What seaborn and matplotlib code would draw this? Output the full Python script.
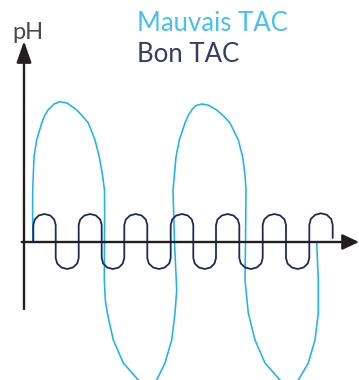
import matplotlib
matplotlib.use("Agg")
import matplotlib.pyplot as plt
import pandas as pd
import seaborn as sns

# pH over time (time units, pH deviation from the set point)
mauvais_t = [0.90, 0.86, 0.87, 1.00, 1.27, 1.77, 2.05, 2.40, 3.00, 3.60, 4.30, 5.27, 5.85, 6.43,
             7.10, 7.53, 7.85, 8.05, 8.06, 8.05, 8.03, 8.13, 8.33, 8.93, 9.93, 11.43, 12.30,
             13.27, 14.10, 14.77, 15.10, 15.27, 15.05, 14.90, 15.20, 15.53, 16.10, 16.40, 16.77,
             17.20, 17.77, 18.40, 19.27, 19.95, 20.60, 21.43, 21.87, 22.10, 22.20, 22.15, 22.10,
             22.43, 23.10, 24.10, 25.60, 26.50, 27.43, 28.43, 29.10, 29.43, 29.43, 29.27]
mauvais_ph = [0.0, 2.7, 5.2, 8.5, 10.2, 11.9, 12.6, 13.2, 13.8, 14.03, 13.9, 13.2, 12.6, 11.9,
              10.2, 8.5, 6.7, 5.2, 2.7, 0.0, -3.8, -5.8, -7.1, -9.8, -12.1, -13.8, -14.3,
              -13.8, -12.1, -9.8, -7.1, -4.8, 0.0, 5.2, 8.5, 10.2, 11.9, 12.6, 13.2,
              13.65, 13.8, 13.7, 13.2, 12.6, 11.9, 10.2, 8.5, 6.7, 5.2, 0.0, -3.8,
              -7.1, -9.8, -12.1, -13.8, -14.3, -13.8, -12.1, -9.8, -7.1, -3.8, 0.0]

bon_t = [0.93, 0.93, 1.08, 1.47, 2.05, 2.63, 3.02, 3.17, 3.17,
         3.17, 3.32, 3.74, 4.32, 4.90, 5.32, 5.47, 5.47,
         5.47, 5.62, 6.04, 6.62, 7.20, 7.62, 7.77, 7.77,
         7.77, 7.92, 8.32, 8.90, 9.48, 9.88, 10.03, 10.03,
         10.03, 10.18, 10.60, 11.18, 11.76, 12.18, 12.33, 12.33,
         12.33, 12.48, 12.92, 13.50, 14.08, 14.52, 14.67, 14.67,
         14.67, 14.82, 15.22, 15.80, 16.38, 16.78, 16.93, 16.93,
         16.93, 17.08, 17.49, 18.07, 18.65, 19.05, 19.20, 19.20,
         19.20, 19.35, 19.79, 20.37, 20.95, 21.38, 21.53, 21.53,
         21.53, 21.68, 22.12, 22.70, 23.28, 23.72, 23.87, 23.87,
         23.87, 24.02, 24.46, 25.04, 25.62, 26.05, 26.20, 26.20,
         26.20, 26.35, 26.79, 27.37, 27.95, 28.38, 28.53, 28.53,
         28.53, 28.68, 29.12, 29.70, 30.28, 30.72, 30.87, 30.87]
bon_ph = [0.0, 1.7, 2.25, 2.65, 2.8, 2.65, 2.25, 1.7, 0.0,
          -1.6, -2.15, -2.55, -2.7, -2.55, -2.15, -1.6, 0.0,
          1.7, 2.25, 2.65, 2.8, 2.65, 2.25, 1.7, 0.0,
          -1.6, -2.15, -2.55, -2.7, -2.55, -2.15, -1.6, 0.0,
          1.7, 2.25, 2.65, 2.8, 2.65, 2.25, 1.7, 0.0,
          -1.6, -2.15, -2.55, -2.7, -2.55, -2.15, -1.6, 0.0,
          1.7, 2.25, 2.65, 2.8, 2.65, 2.25, 1.7, 0.0,
          -1.6, -2.15, -2.55, -2.7, -2.55, -2.15, -1.6, 0.0,
          1.7, 2.25, 2.65, 2.8, 2.65, 2.25, 1.7, 0.0,
          -1.6, -2.15, -2.55, -2.7, -2.55, -2.15, -1.6, 0.0,
          1.7, 2.25, 2.65, 2.8, 2.65, 2.25, 1.7, 0.0,
          -1.6, -2.15, -2.55, -2.7, -2.55, -2.15, -1.6, 0.0,
          1.7, 2.3, 2.72, 2.87, 2.72, 2.3, 1.7, 0.4]

labels = ["Mauvais TAC", "Bon TAC"]
colors = {"Mauvais TAC": "#1cb4ee", "Bon TAC": "#1e2a5c"}
text_colors = {"Mauvais TAC": "#45c2f1", "Bon TAC": "#343c68"}

df = pd.concat([
    pd.DataFrame({"t": mauvais_t, "ph": mauvais_ph, "tac": labels[0]}),
    pd.DataFrame({"t": bon_t, "ph": bon_ph, "tac": labels[1]}),
])

sns.set_style("white")
plt.rcParams["font.family"] = ["Lato", "DejaVu Sans"]

fig = plt.figure(figsize=(3.59, 3.80), dpi=100)
ax = fig.add_axes([0, 0, 1, 1])

sns.lineplot(data=df[df.tac == labels[0]], x="t", y="ph", sort=False, estimator=None,
             color=colors[labels[0]], lw=1.15, ax=ax)
sns.lineplot(data=df[df.tac == labels[1]], x="t", y="ph", sort=False, estimator=None,
             color=colors[labels[1]], lw=1.3, ax=ax)

ax.set_xlim(-2.4, 33.5)
ax.set_ylim(-13.8, 24.2)
ax.axis("off")

# axes drawn as arrows
axis_col = "#231f20"
ax.annotate("", xy=(33.5, 0), xytext=(-0.23, 0),
            arrowprops=dict(arrowstyle="-|>,head_length=1.0,head_width=0.47", lw=1.7,
                            color=axis_col, shrinkA=0, shrinkB=0, mutation_scale=10))
ax.annotate("", xy=(0, 20.1), xytext=(0, -6.7),
            arrowprops=dict(arrowstyle="-|>,head_length=1.3,head_width=0.45", lw=1.7,
                            color=axis_col, shrinkA=0, shrinkB=0, mutation_scale=10))

ax.text(-1.15, 20.27, "pH", fontsize=17, color="#4a4a4a",
        ha="left", va="baseline")
ax.text(11.33, 21.13, labels[0], fontsize=18.5, color=text_colors[labels[0]],
        ha="left", va="baseline")
ax.text(11.33, 17.97, labels[1], fontsize=18.5, color=text_colors[labels[1]],
        ha="left", va="baseline")

fig.savefig("out.png", dpi=100)
